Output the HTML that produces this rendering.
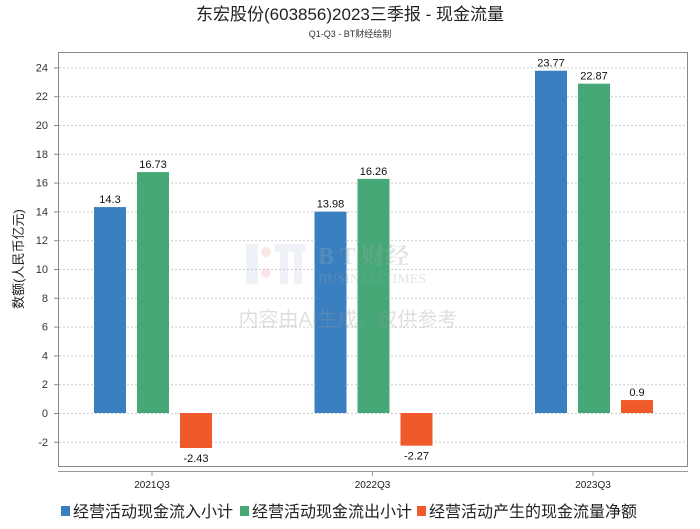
<!DOCTYPE html>
<html><head><meta charset="utf-8"><style>
body{margin:0;background:#fff;width:700px;height:524px;overflow:hidden;font-family:"Liberation Sans","Noto Sans CJK SC",sans-serif}
</style></head><body>
<svg id="chart" width="700" height="524" xmlns="http://www.w3.org/2000/svg" font-family="Liberation Sans, Noto Sans CJK SC, sans-serif">
<text x="350" y="20" text-anchor="middle" font-size="17" fill="#222">东宏股份(603856)2023三季报 - 现金流量</text>
<text x="350" y="37" text-anchor="middle" font-size="9" fill="#333">Q1-Q3 - BT财经绘制</text>
<rect x="58.5" y="52.5" width="629" height="414" fill="none" stroke="#888"/>
<line x1="58" y1="471.5" x2="688" y2="471.5" stroke="#999"/>
<g id="grid"></g>
<g id="bars"></g>
<g opacity="0.3">
<rect x="246" y="244" width="12" height="40" fill="#c8d4e4"/><circle cx="266" cy="252" r="5" fill="#f0b0b0"/><circle cx="266" cy="273" r="5" fill="#f0b0b0"/><rect x="275" y="244" width="30" height="8" fill="#c8d4e4"/><rect x="280" y="252" width="8" height="32" fill="#c8d4e4"/><rect x="294" y="252" width="8" height="32" fill="#c8d4e4"/>
<text x="318" y="264" font-size="24" font-family="Liberation Serif, Noto Serif CJK SC, serif" fill="#9aa" font-weight="bold">B T 财经</text>
<text x="318" y="283" font-size="14" font-family="Liberation Serif, serif" fill="#9aa">BUSINESSTIMES</text>
<text x="348" y="326" text-anchor="middle" font-size="20" fill="#999">内容由AI生成，仅供参考</text>
</g>
<text transform="translate(23,259) rotate(-90)" text-anchor="middle" font-size="13" fill="#222">数额(人民币亿元)</text>
<g id="legend"></g>
</svg>
<script>
const categories=["2021Q3","2022Q3","2023Q3"];
const inflow=[14.3,13.98,23.77];
const outflow=[16.73,16.26,22.87];
const net=[-2.43,-2.27,0.9];
const seriesNames=["经营活动现金流入小计","经营活动现金流出小计","经营活动产生的现金流量净额"];
const yTicks=[-2,0,2,4,6,8,10,12,14,16,18,20,22,24];
const NS="http://www.w3.org/2000/svg";
const colors=["#3a7fc0","#45a876","#f05a2a"];
const y=v=>413-v*14.4;
const x=i=>152+i*220.5;
function mk(t,a,p){const e=document.createElementNS(NS,t);for(const k in a)e.setAttribute(k,a[k]);(p||document.getElementById('chart')).appendChild(e);return e;}
const grid=document.getElementById('grid');
yTicks.forEach(v=>{
 const l=mk('line',{x1:59,x2:687,y1:y(v)+0.5,y2:y(v)+0.5,stroke:'#ccc','stroke-dasharray':'2,2'},grid);
 
 
 const tk=mk('line',{x1:54,x2:58,y1:y(v)+0.5,y2:y(v)+0.5,stroke:'#888'},grid);
 
 
 const t=mk('text',{x:48,y:y(v)+4,'text-anchor':'end','font-size':11,fill:'#333'},grid);
 t.textContent=v;
 
 
});
const bars=document.getElementById('bars');
const series=[inflow,outflow,net];
categories.forEach((c,i)=>{
 const tk=mk('line',{x1:x(i),x2:x(i),y1:471,y2:476,stroke:'#999'},bars);
 
 
 const t=mk('text',{x:x(i),y:488,'text-anchor':'middle','font-size':10,fill:'#222'},bars);
 t.textContent=c;
 
 
 series.forEach((s,j)=>{
  const v=s[i];const bx=x(i)-58+j*43;
  const top=Math.min(y(v),y(0)),h=Math.abs(y(v)-y(0));
  const r=mk('rect',{x:bx,y:top,width:32,height:h,fill:colors[j]},bars);
  
  
  const lb=mk('text',{x:bx+16,y:v>=0?y(v)-4:y(v)+14,'text-anchor':'middle','font-size':11,fill:'#111'},bars);
  lb.textContent=v;
  
  
 });
});
const lg=document.getElementById('legend');
const lx=[61,240,417];
seriesNames.forEach((n,j)=>{
 const g=mk('g',{},lg);
 
 
 mk('rect',{x:lx[j],y:506,width:9,height:10,fill:colors[j]},g);
 const t=mk('text',{x:lx[j]+12,y:517,'font-size':16,fill:'#222'},g);
 t.textContent=n;
});
</script>
</body></html>
